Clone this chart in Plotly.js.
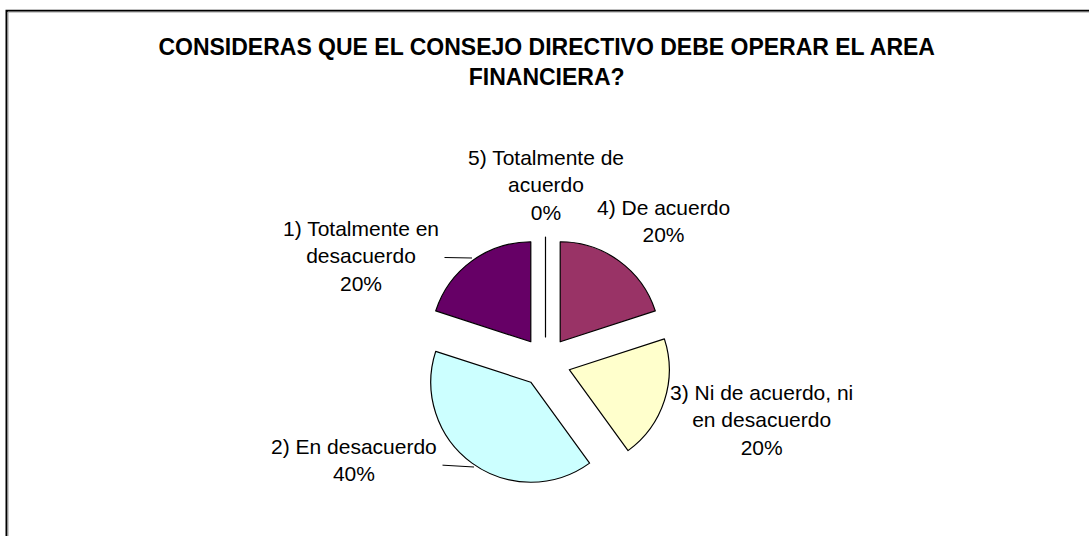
<!DOCTYPE html>
<html>
<head>
<meta charset="utf-8">
<script src="https://cdn.plot.ly/plotly-3.0.1.min.js"></script>
<style>
  html, body { margin: 0; padding: 0; background: #ffffff; }
  #chart { width: 1089px; height: 536px; }
</style>
</head>
<body>
<div id="chart"></div>
<script>
// ---- data ----
const categories = [
  '1) Totalmente en desacuerdo',
  '2) En desacuerdo',
  '3) Ni de acuerdo, ni en desacuerdo',
  '4) De acuerdo',
  '5) Totalmente de acuerdo'
];
const values = [20, 40, 20, 20, 0];
const sliceColors = ['#660066', '#CCFFFF', '#FFFFCC', '#993366', '#FF8080'];
const chartTitle = 'CONSIDERAS QUE EL CONSEJO DIRECTIVO DEBE OPERAR EL AREA<br>FINANCIERA?';

// ---- layout helpers ----
const W = 1089, H = 536;
const px = x => x / W;
const py = y => 1 - y / H;

function wrap(s, maxChars) {
  const words = s.split(' ');
  const lines = [];
  let cur = '';
  words.forEach(w => {
    const t = cur ? cur + ' ' + w : w;
    if (t.length > maxChars && cur) { lines.push(cur); cur = w; }
    else cur = t;
  });
  if (cur) lines.push(cur);
  return lines.join('<br>');
}

const total = values.reduce((a, b) => a + b, 0);
const pctText = values.map(v => Math.round(v / total * 100) + '%');

// label placement (pixel centres of label blocks) and optional leader-line tips
const labelPlace = [
  { cx: 361, cy: 256, tip: [472, 258] },
  { cx: 354, cy: 460, tip: [474, 467] },
  { cx: 761, cy: 420 },
  { cx: 663, cy: 221 },
  { cx: 546, cy: 185 }
];

const labelFont = { family: 'Liberation Sans, Arial, sans-serif', size: 21, color: '#000000' };

const annotations = categories.map((c, i) => {
  const txt = wrap(c, 20) + '<br>' + pctText[i];
  const p = labelPlace[i];
  if (p.tip) {
    return {
      xref: 'paper', yref: 'paper',
      x: px(p.tip[0]), y: py(p.tip[1]),
      ax: p.cx - p.tip[0], ay: p.cy - p.tip[1],
      axref: 'pixel', ayref: 'pixel',
      showarrow: true, arrowhead: 0, arrowwidth: 1, arrowcolor: '#000000',
      borderpad: 5,
      text: txt, font: labelFont, align: 'center'
    };
  }
  return {
    xref: 'paper', yref: 'paper',
    x: px(p.cx), y: py(p.cy),
    xanchor: 'center', yanchor: 'middle',
    showarrow: false,
    text: txt, font: labelFont, align: 'center'
  };
});

// pie placement: centre (545.5, 362), radius 100, pull 0.25
const cx = 545.5, cy = 362, boxHalf = 125;

const trace = {
  type: 'pie',
  labels: categories,
  values: values,
  sort: false,
  direction: 'counterclockwise',
  rotation: -72,
  pull: 0.25,
  textinfo: 'none',
  hoverinfo: 'label+percent',
  showlegend: false,
  marker: { colors: sliceColors, line: { color: '#000000', width: 1.2 } },
  domain: {
    x: [px(cx - boxHalf), px(cx + boxHalf)],
    y: [py(cy + boxHalf), py(cy - boxHalf)]
  }
};

const layout = {
  width: W, height: H,
  margin: { l: 0, r: 0, t: 0, b: 0 },
  paper_bgcolor: '#ffffff',
  plot_bgcolor: '#ffffff',
  showlegend: false,
  title: {
    text: chartTitle,
    x: 0.502, xanchor: 'center', xref: 'paper',
    y: 1 - 55 / H, yanchor: 'top', yref: 'container',
    font: { family: 'Liberation Sans, Arial, sans-serif', size: 23, weight: 'bold', color: '#000000' }
  },
  annotations: annotations,
  shapes: [
    { type: 'rect', xref: 'paper', yref: 'paper',
      x0: px(6.5), x1: 1.05, y0: -0.05, y1: py(10.7),
      line: { color: '#000000', width: 2 } },
    { type: 'rect', xref: 'paper', yref: 'paper',
      x0: px(8), x1: 1.05, y0: -0.05, y1: py(12),
      line: { color: '#999999', width: 1 } }
  ]
};

Plotly.newPlot('chart', [trace], layout, { displayModeBar: false, staticPlot: true });
</script>
</body>
</html>
